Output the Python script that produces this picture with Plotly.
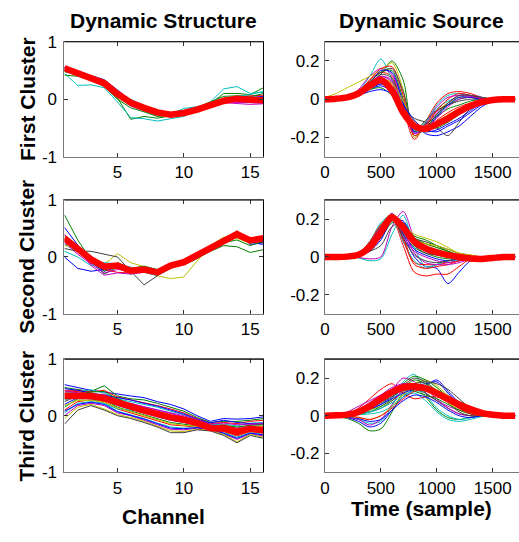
import plotly.graph_objects as go

# ---------------- data ----------------
channels = list(range(1, 17))
time_samples = list(range(0, 1800, 100))

col_titles = ["Dynamic Structure", "Dynamic Source"]
row_titles = ["First Cluster", "Second Cluster", "Third Cluster"]
x_titles = ["Channel", "Time (sample)"]

struct_xticks = [5, 10, 15]
struct_yticks = [-1, 0, 1]
struct_yticktext = ["-1", "0", "1"]
source_xticks = [0, 500, 1000, 1500]
source_yticks = [-0.2, 0, 0.2]
source_yticktext = ["-0.2", "0", "0.2"]

matlab_colors = ["#0000ff", "#008000", "#ff0000", "#00bfbf", "#bf00bf", "#bfbf00", "#404040"]

struct1_mean = [0.54, 0.46, 0.37, 0.28, 0.09, -0.06, -0.15, -0.23, -0.27, -0.24, -0.18, -0.11, -0.03, 0.01, -0.01, -0.02]
struct1_trials = [
    [0.55, 0.48, 0.40, 0.34, 0.16, -0.02, -0.12, -0.22, -0.28, -0.24, -0.17, -0.10, -0.01, 0.04, 0.03, 0.05],
    [0.48, 0.42, 0.33, 0.24, 0.02, -0.35, -0.30, -0.33, -0.29, -0.25, -0.17, -0.08, 0.10, 0.10, 0.08, 0.20],
    [0.52, 0.45, 0.35, 0.26, 0.06, -0.10, -0.18, -0.26, -0.25, -0.22, -0.15, -0.08, 0.02, 0.05, 0.06, 0.07],
    [0.45, 0.24, 0.25, 0.20, -0.05, -0.32, -0.34, -0.38, -0.34, -0.30, -0.18, -0.05, 0.18, 0.22, 0.10, 0.12],
    [0.50, 0.44, 0.34, 0.25, 0.05, -0.12, -0.20, -0.25, -0.30, -0.26, -0.20, -0.14, -0.06, -0.07, -0.09, -0.08],
    [0.53, 0.47, 0.39, 0.31, 0.10, -0.07, -0.16, -0.22, -0.25, -0.22, -0.16, -0.10, -0.02, -0.03, -0.05, -0.05],
    [0.50, 0.48, 0.40, 0.22, 0.06, -0.05, -0.20, -0.28, -0.30, -0.26, -0.19, -0.12, -0.04, 0.00, -0.03, 0.00],
    [0.56, 0.47, 0.39, 0.33, 0.12, -0.04, -0.13, -0.21, -0.27, -0.25, -0.19, -0.12, -0.03, 0.02, 0.01, 0.00],
    [0.42, 0.40, 0.33, 0.22, 0.00, -0.15, -0.22, -0.30, -0.28, -0.22, -0.14, -0.05, 0.05, 0.06, 0.04, 0.10],
    [0.55, 0.46, 0.37, 0.27, 0.07, -0.08, -0.14, -0.23, -0.26, -0.21, -0.16, -0.12, -0.05, -0.02, -0.04, -0.06],
    [0.51, 0.45, 0.37, 0.30, 0.12, 0.00, -0.12, -0.20, -0.26, -0.16, -0.13, -0.07, 0.00, 0.05, 0.08, 0.14],
    [0.54, 0.46, 0.36, 0.29, 0.08, -0.07, -0.17, -0.26, -0.28, -0.25, -0.19, -0.13, -0.05, -0.05, -0.06, -0.07],
]

struct2_mean = [0.33, 0.13, -0.04, -0.17, -0.15, -0.24, -0.22, -0.27, -0.15, -0.09, 0.04, 0.16, 0.30, 0.40, 0.29, 0.33]
struct2_trials = [
    [0.52, 0.20, -0.10, -0.25, -0.18, -0.27, -0.25, -0.28, -0.13, -0.08, 0.05, 0.18, 0.32, 0.42, 0.22, 0.25],
    [0.74, 0.30, -0.05, -0.30, -0.18, -0.30, -0.20, -0.30, -0.17, -0.12, -0.02, 0.10, 0.20, 0.18, 0.08, 0.13],
    [0.30, 0.10, -0.10, -0.22, -0.27, -0.28, -0.25, -0.28, -0.18, -0.10, 0.03, 0.16, 0.33, 0.43, 0.30, 0.30],
    [0.22, 0.10, -0.08, -0.20, -0.12, -0.22, -0.27, -0.33, -0.20, -0.12, 0.02, 0.15, 0.30, 0.38, 0.28, 0.28],
    [0.25, 0.05, -0.12, -0.28, -0.22, -0.24, -0.22, -0.25, -0.12, -0.05, 0.07, 0.20, 0.32, 0.40, 0.30, 0.32],
    [0.20, 0.18, -0.05, -0.13, 0.06, -0.10, -0.17, -0.33, -0.38, -0.35, -0.07, 0.20, 0.35, 0.35, 0.27, 0.36],
    [0.15, 0.10, 0.10, 0.05, 0.00, -0.25, -0.49, -0.33, -0.18, -0.10, 0.02, 0.15, 0.30, 0.46, 0.28, 0.25],
    [0.00, -0.20, -0.25, -0.22, -0.15, -0.20, -0.22, -0.25, -0.15, -0.08, 0.05, 0.16, 0.28, 0.38, 0.26, 0.22],
    [0.35, 0.12, -0.02, -0.25, -0.10, -0.20, -0.16, -0.22, -0.18, -0.14, -0.03, 0.12, 0.25, 0.30, 0.20, 0.28],
    [0.38, 0.15, -0.05, -0.15, -0.20, -0.26, -0.24, -0.30, -0.16, -0.10, 0.04, 0.17, 0.30, 0.40, 0.30, 0.34],
    [0.10, 0.00, -0.15, -0.10, -0.12, -0.18, -0.20, -0.27, -0.14, -0.06, 0.06, 0.18, 0.33, 0.36, 0.24, 0.30],
    [0.40, 0.15, -0.15, -0.32, -0.28, -0.30, -0.27, -0.24, -0.14, -0.07, 0.06, 0.17, 0.31, 0.42, 0.28, 0.31],
    [0.28, 0.20, 0.00, -0.12, -0.15, -0.20, -0.18, -0.26, -0.12, -0.06, 0.05, 0.16, 0.30, 0.33, 0.24, 0.35],
]

struct3_mean = [0.35, 0.36, 0.35, 0.31, 0.22, 0.16, 0.09, 0.02, -0.03, -0.07, -0.13, -0.22, -0.23, -0.29, -0.23, -0.26]
struct3_trials = [
    [0.55, 0.50, 0.45, 0.42, 0.38, 0.35, 0.32, 0.25, 0.20, 0.12, 0.00, -0.10, -0.05, -0.06, -0.05, -0.02],
    [0.50, 0.47, 0.43, 0.53, 0.35, 0.30, 0.28, 0.22, 0.15, 0.08, -0.03, -0.12, -0.10, -0.10, -0.08, -0.05],
    [0.45, 0.45, 0.42, 0.45, 0.33, 0.28, 0.24, 0.18, 0.12, 0.05, -0.05, -0.14, -0.12, -0.14, -0.10, -0.08],
    [0.40, 0.42, 0.46, 0.40, 0.30, 0.25, 0.20, 0.15, 0.08, 0.02, -0.08, -0.16, -0.15, -0.18, -0.13, -0.12],
    [0.38, 0.40, 0.38, 0.38, 0.28, 0.22, 0.16, 0.10, 0.04, -0.02, -0.10, -0.18, -0.18, -0.22, -0.16, -0.15],
    [0.30, 0.38, 0.36, 0.35, 0.25, 0.18, 0.12, 0.06, 0.00, -0.05, -0.12, -0.19, -0.20, -0.25, -0.19, -0.18],
    [0.25, 0.35, 0.35, 0.33, 0.22, 0.15, 0.08, 0.02, -0.04, -0.08, -0.14, -0.20, -0.22, -0.28, -0.22, -0.22],
    [0.20, 0.32, 0.33, 0.30, 0.18, 0.12, 0.05, -0.02, -0.08, -0.12, -0.16, -0.21, -0.24, -0.30, -0.24, -0.25],
    [0.15, 0.30, 0.30, 0.28, 0.15, 0.08, 0.02, -0.06, -0.12, -0.15, -0.18, -0.22, -0.26, -0.33, -0.26, -0.28],
    [0.10, 0.25, 0.28, 0.25, 0.12, 0.05, -0.02, -0.10, -0.16, -0.18, -0.20, -0.23, -0.28, -0.36, -0.28, -0.30],
    [0.05, 0.22, 0.25, 0.22, 0.08, 0.02, -0.05, -0.13, -0.20, -0.22, -0.21, -0.24, -0.30, -0.38, -0.30, -0.33],
    [0.00, 0.18, 0.22, 0.18, 0.05, 0.00, -0.08, -0.16, -0.24, -0.25, -0.22, -0.25, -0.32, -0.42, -0.32, -0.36],
    [-0.05, 0.15, 0.20, 0.12, 0.02, -0.03, -0.10, -0.18, -0.27, -0.28, -0.24, -0.26, -0.33, -0.46, -0.33, -0.38],
    [-0.15, 0.10, 0.18, 0.10, 0.00, -0.05, -0.12, -0.20, -0.30, -0.30, -0.25, -0.27, -0.35, -0.48, -0.35, -0.40],
    [0.48, 0.45, 0.40, 0.36, 0.32, 0.28, 0.22, 0.17, 0.10, 0.03, -0.06, -0.13, -0.08, -0.12, -0.14, -0.14],
    [0.35, 0.38, 0.42, 0.43, 0.30, 0.20, 0.14, 0.08, 0.02, -0.04, -0.11, -0.17, -0.17, -0.20, -0.17, -0.16],
    [0.42, 0.43, 0.38, 0.30, 0.20, 0.14, 0.10, 0.04, -0.02, -0.06, -0.12, -0.20, -0.16, -0.23, -0.20, -0.20],
    [0.28, 0.33, 0.30, 0.22, 0.12, 0.10, 0.06, 0.00, -0.06, -0.10, -0.15, -0.21, -0.19, -0.26, -0.23, -0.24],
    [0.44, 0.41, 0.37, 0.34, 0.26, 0.21, 0.16, 0.11, 0.05, 0.00, -0.07, -0.15, -0.13, -0.16, -0.15, -0.13],
    [0.18, 0.27, 0.27, 0.24, 0.14, 0.07, 0.00, -0.08, -0.14, -0.17, -0.19, -0.23, -0.27, -0.34, -0.27, -0.29],
    [0.32, 0.36, 0.34, 0.31, 0.21, 0.13, 0.07, 0.01, -0.05, -0.09, -0.13, -0.20, -0.21, -0.27, -0.21, -0.21],
    [0.08, 0.20, 0.24, 0.20, 0.07, 0.01, -0.06, -0.14, -0.22, -0.23, -0.21, -0.24, -0.31, -0.40, -0.31, -0.34],
]

source1_mean = [0, 0.003, 0.01, 0.03, 0.07, 0.10, 0.045, -0.07, -0.14, -0.155, -0.13, -0.10, -0.065, -0.035, -0.015, -0.004, 0, 0]
source1_trials = [
    [0, 0.002, 0.005, 0.02, 0.05, 0.07, 0.04, -0.04, -0.12, -0.18, -0.19, -0.17, -0.14, -0.09, -0.04, -0.01, 0, 0],
    [0, 0.003, 0.01, 0.03, 0.08, 0.13, 0.20, 0.10, -0.19, -0.15, -0.08, -0.03, 0.00, 0.01, 0.00, 0, 0, 0],
    [0, 0.003, 0.01, 0.04, 0.10, 0.14, 0.12, -0.05, -0.21, -0.12, -0.02, 0.03, 0.04, 0.03, 0.01, 0, 0, 0],
    [0, 0.003, 0.01, 0.04, 0.12, 0.21, 0.10, -0.08, -0.16, -0.13, -0.05, -0.01, 0.01, 0.01, 0.00, 0, 0, 0],
    [0, 0.004, 0.012, 0.05, 0.12, 0.16, 0.13, -0.02, -0.18, -0.14, -0.07, -0.02, 0.02, 0.02, 0.01, 0, 0, 0],
    [0.01, 0.03, 0.06, 0.09, 0.12, 0.15, 0.19, 0.05, -0.20, -0.13, -0.06, -0.02, 0.01, 0.01, 0.00, 0, 0, 0],
    [0, 0.002, 0.008, 0.03, 0.06, 0.08, 0.04, -0.05, -0.10, -0.12, -0.15, -0.19, -0.12, -0.05, -0.02, 0, 0, 0],
    [0, 0.002, 0.006, 0.02, 0.05, 0.08, 0.06, -0.02, -0.13, -0.17, -0.16, -0.13, -0.10, -0.06, -0.02, -0.005, 0, 0],
    [0, 0.003, 0.01, 0.03, 0.09, 0.14, 0.15, 0.00, -0.17, -0.13, -0.09, -0.05, -0.03, -0.01, 0, 0, 0, 0],
    [0, 0.003, 0.01, 0.03, 0.07, 0.11, 0.08, -0.04, -0.15, -0.16, -0.11, -0.07, -0.04, -0.02, -0.01, 0, 0, 0],
    [0, 0.002, 0.008, 0.025, 0.06, 0.09, 0.06, -0.05, -0.15, -0.12, -0.03, 0.02, 0.03, 0.02, 0.01, 0, 0, 0],
    [0, 0.003, 0.01, 0.03, 0.08, 0.12, 0.10, -0.03, -0.16, -0.15, -0.10, -0.04, 0.00, 0.01, 0.00, 0, 0, 0],
    [0, 0.002, 0.008, 0.03, 0.07, 0.10, 0.09, -0.03, -0.14, -0.14, -0.12, -0.08, -0.05, -0.03, -0.01, 0, 0, 0],
    [0, 0.002, 0.01, 0.03, 0.07, 0.13, 0.11, -0.06, -0.17, -0.11, -0.06, -0.03, -0.01, 0, 0, 0, 0, 0],
    [0, 0.002, 0.008, 0.03, 0.08, 0.15, 0.14, -0.02, -0.17, -0.16, -0.09, -0.03, 0.01, 0.01, 0, 0, 0, 0],
    [0, 0.002, 0.006, 0.02, 0.05, 0.06, 0.02, -0.06, -0.13, -0.15, -0.15, -0.12, -0.08, -0.04, -0.015, 0, 0, 0],
    [0, 0.003, 0.01, 0.04, 0.10, 0.16, 0.17, 0.02, -0.19, -0.14, -0.06, 0.00, 0.03, 0.02, 0.005, 0, 0, 0],
    [0, 0.002, 0.007, 0.025, 0.06, 0.10, 0.07, -0.06, -0.16, -0.17, -0.14, -0.10, -0.06, -0.03, -0.01, 0, 0, 0],
    [0, 0.003, 0.01, 0.035, 0.09, 0.12, 0.09, -0.05, -0.18, -0.13, -0.04, 0.01, 0.02, 0.015, 0.005, 0, 0, 0],
    [0, 0.002, 0.008, 0.02, 0.05, 0.09, 0.08, -0.01, -0.12, -0.15, -0.13, -0.10, -0.07, -0.04, -0.02, -0.005, 0, 0],
    [0, 0.003, 0.01, 0.04, 0.09, 0.14, 0.16, 0.04, -0.15, -0.15, -0.08, -0.02, 0.02, 0.02, 0.01, 0, 0, 0],
    [0, 0.002, 0.006, 0.02, 0.04, 0.05, 0.03, -0.03, -0.11, -0.16, -0.17, -0.14, -0.11, -0.07, -0.03, -0.01, 0, 0],
]

source2_mean = [0, 0, 0.002, 0.012, 0.05, 0.13, 0.21, 0.155, 0.08, 0.045, 0.025, 0.01, 0.0, -0.008, -0.01, -0.005, 0, 0]
source2_trials = [
    [0, 0, 0.003, 0.015, 0.06, 0.15, 0.22, 0.12, 0.00, -0.05, -0.06, -0.14, -0.08, -0.02, 0, 0, 0, 0],
    [0, 0, 0.004, 0.02, 0.08, 0.17, 0.22, 0.12, 0.05, 0.02, 0.00, -0.01, -0.01, 0, 0, 0, 0, 0],
    [0, 0, 0.003, 0.015, 0.06, 0.14, 0.20, 0.06, -0.08, -0.10, -0.09, -0.09, -0.05, -0.01, 0, 0, 0, 0],
    [0, 0, 0.0, -0.005, -0.02, -0.01, 0.12, 0.22, 0.05, -0.05, -0.04, -0.02, -0.01, -0.02, -0.01, 0, 0, 0],
    [0, 0, 0.0, -0.003, -0.01, 0.00, 0.16, 0.24, 0.10, 0.03, 0.01, 0, 0, 0, 0, 0, 0, 0],
    [0, 0, 0.004, 0.02, 0.07, 0.16, 0.23, 0.15, 0.09, 0.07, 0.05, 0.03, 0.01, 0, 0, 0, 0, 0],
    [0, 0, 0.002, 0.01, 0.03, 0.06, 0.16, 0.18, 0.10, 0.08, 0.06, 0.04, 0.02, 0.01, 0, 0, 0, 0],
    [0, 0, 0.003, 0.015, 0.06, 0.14, 0.21, 0.16, 0.08, 0.05, 0.03, 0.02, 0.01, -0.01, -0.015, -0.01, 0, 0],
    [0, 0, 0.003, 0.015, 0.06, 0.13, 0.20, 0.17, 0.11, 0.09, 0.06, 0.03, 0.01, 0, 0, 0, 0, 0],
    [0, 0, 0.002, 0.012, 0.05, 0.12, 0.20, 0.10, -0.03, -0.04, -0.04, -0.03, -0.02, -0.01, 0, 0, 0, 0],
    [0, 0, 0.004, 0.02, 0.08, 0.18, 0.22, 0.08, -0.02, -0.06, -0.04, -0.02, -0.02, -0.01, 0, 0, 0, 0],
    [0, 0, 0.003, 0.015, 0.06, 0.15, 0.23, 0.11, 0.03, 0.00, -0.02, -0.03, -0.02, -0.01, 0, 0, 0, 0],
    [0, 0, 0.002, 0.01, 0.04, 0.11, 0.19, 0.17, 0.12, 0.10, 0.08, 0.05, 0.02, 0.01, 0, 0, 0, 0],
    [0, 0, 0.003, 0.012, 0.05, 0.12, 0.21, 0.14, 0.06, 0.02, 0.01, 0.00, -0.01, -0.01, 0, 0, 0, 0],
    [0, 0, 0.003, 0.015, 0.07, 0.16, 0.22, 0.13, 0.04, 0.01, -0.01, -0.02, -0.01, 0, 0, 0, 0, 0],
    [0, 0, 0.002, 0.01, 0.04, 0.10, 0.18, 0.18, 0.10, 0.07, 0.05, 0.03, 0.01, 0, 0, 0, 0, 0],
    [0, 0, 0.003, 0.02, 0.08, 0.17, 0.21, 0.09, -0.04, -0.06, -0.05, -0.04, -0.02, -0.01, 0, 0, 0, 0],
    [0, 0, 0.002, 0.012, 0.05, 0.12, 0.20, 0.15, 0.07, 0.05, 0.04, 0.02, 0.01, 0, -0.01, 0, 0, 0],
    [0, 0, 0.004, 0.02, 0.07, 0.15, 0.22, 0.14, 0.02, -0.03, -0.04, -0.04, -0.03, -0.01, 0, 0, 0, 0],
    [0, 0, 0.002, 0.012, 0.05, 0.11, 0.19, 0.16, 0.09, 0.07, 0.06, 0.04, 0.02, 0.01, 0, 0, 0, 0],
    [0, 0, 0.003, 0.015, 0.06, 0.14, 0.22, 0.10, 0.01, -0.02, -0.03, -0.02, -0.01, 0, 0, 0, 0, 0],
    [0, 0, 0.001, 0.008, 0.03, 0.09, 0.19, 0.19, 0.08, 0.04, 0.02, 0.01, 0, 0, 0, 0, 0, 0],
]

source3_mean = [0, 0.002, 0.006, 0.02, 0.05, 0.09, 0.125, 0.15, 0.155, 0.145, 0.12, 0.09, 0.06, 0.035, 0.015, 0.005, 0, 0]
source3_trials = [
    [0, 0.001, 0.003, 0.01, 0.03, 0.06, 0.10, 0.14, 0.16, 0.17, 0.18, 0.12, 0.06, 0.02, 0.005, 0, 0, 0],
    [0, -0.005, -0.015, -0.04, -0.08, -0.07, 0.02, 0.12, 0.15, 0.10, 0.03, -0.01, -0.02, -0.01, 0, 0, 0, 0],
    [0, 0.003, 0.01, 0.04, 0.09, 0.14, 0.17, 0.12, 0.09, 0.10, 0.10, 0.07, 0.04, 0.02, 0.005, 0, 0, 0],
    [0, -0.002, -0.008, -0.02, -0.04, -0.03, 0.05, 0.18, 0.22, 0.12, 0.04, 0.00, -0.02, -0.01, 0, 0, 0, 0],
    [0, 0.005, 0.02, 0.05, 0.08, 0.11, 0.14, 0.20, 0.18, 0.12, 0.08, 0.05, 0.03, 0.015, 0.005, 0, 0, 0],
    [0, 0.002, 0.006, 0.015, 0.03, 0.05, 0.08, 0.12, 0.17, 0.19, 0.16, 0.11, 0.06, 0.02, 0.005, 0, 0, 0],
    [0, 0.001, 0.004, 0.01, 0.02, 0.04, 0.08, 0.13, 0.14, 0.12, 0.08, 0.04, 0.01, 0, 0, 0, 0, 0],
    [0, -0.002, -0.01, -0.03, -0.06, -0.04, 0.03, 0.10, 0.14, 0.16, 0.19, 0.13, 0.07, 0.03, 0.01, 0, 0, 0],
    [0, 0.002, 0.008, 0.02, 0.04, 0.07, 0.11, 0.15, 0.19, 0.17, 0.13, 0.09, 0.05, 0.02, 0.005, 0, 0, 0],
    [0, 0.003, 0.01, 0.03, 0.06, 0.10, 0.13, 0.15, 0.14, 0.13, 0.11, 0.08, 0.05, 0.025, 0.01, 0, 0, 0],
    [0, 0.001, 0.002, 0.005, 0.01, 0.02, 0.05, 0.10, 0.12, 0.08, 0.02, -0.02, -0.03, -0.02, -0.005, 0, 0, 0],
    [0, -0.002, -0.008, -0.02, -0.05, -0.02, 0.06, 0.14, 0.17, 0.14, 0.09, 0.04, 0.01, 0, 0, 0, 0, 0],
    [0, 0.003, 0.01, 0.03, 0.06, 0.09, 0.12, 0.14, 0.16, 0.16, 0.14, 0.10, 0.06, 0.03, 0.01, 0, 0, 0],
    [0, 0.002, 0.006, 0.02, 0.05, 0.08, 0.11, 0.16, 0.20, 0.18, 0.13, 0.07, 0.02, 0.00, 0, 0, 0, 0],
    [0, -0.001, -0.005, -0.015, -0.03, -0.02, 0.03, 0.08, 0.11, 0.10, 0.07, 0.03, 0.00, -0.01, 0, 0, 0, 0],
    [0, 0.001, 0.004, 0.01, 0.02, 0.05, 0.09, 0.17, 0.21, 0.19, 0.15, 0.10, 0.05, 0.02, 0.005, 0, 0, 0],
    [0, 0.002, 0.008, 0.025, 0.06, 0.10, 0.14, 0.17, 0.17, 0.15, 0.12, 0.08, 0.04, 0.015, 0.005, 0, 0, 0],
    [0, 0.001, 0.003, 0.01, 0.02, 0.04, 0.07, 0.11, 0.13, 0.13, 0.12, 0.09, 0.05, 0.02, 0.005, 0, 0, 0],
    [0, 0.003, 0.012, 0.035, 0.07, 0.11, 0.15, 0.17, 0.16, 0.14, 0.11, 0.08, 0.05, 0.03, 0.01, 0, 0, 0],
    [0, -0.001, -0.004, -0.01, -0.02, 0.00, 0.05, 0.11, 0.15, 0.15, 0.12, 0.07, 0.03, 0.01, 0, 0, 0, 0],
    [0, 0.002, 0.006, 0.02, 0.04, 0.07, 0.10, 0.14, 0.17, 0.18, 0.17, 0.14, 0.09, 0.04, 0.01, 0, 0, 0],
    [0, 0.001, 0.005, 0.015, 0.035, 0.06, 0.09, 0.12, 0.14, 0.14, 0.12, 0.10, 0.07, 0.04, 0.015, 0, 0, 0],
    [0, 0.002, 0.007, 0.02, 0.045, 0.08, 0.12, 0.15, 0.13, 0.11, 0.09, 0.06, 0.03, 0.01, 0, 0, 0, 0],
    [0, 0, -0.002, -0.008, -0.02, 0.00, 0.04, 0.09, 0.13, 0.14, 0.13, 0.09, 0.04, 0.01, 0, 0, 0, 0],
]

# ---------------- layout geometry ----------------
W, H = 519, 542
col_px = [(60, 261), (323, 519)]
row_px = [(34, 153), (198, 316), (363, 480)]

FONT = "Liberation Sans, Arial, Helvetica, sans-serif"
AXIS_GRAY = "#7a7a7a"

fig = go.Figure()

panels = [
    (struct1_trials, struct1_mean, source1_trials, source1_mean),
    (struct2_trials, struct2_mean, source2_trials, source2_mean),
    (struct3_trials, struct3_mean, source3_trials, source3_mean),
]

shapes = []
for r, (st, sm, so, som) in enumerate(panels):
    for c in range(2):
        idx = r * 2 + c + 1
        xa = "x" if idx == 1 else f"x{idx}"
        ya = "y" if idx == 1 else f"y{idx}"
        if c == 0:
            xs, trials, mean, shape = channels, st, sm, "linear"
        else:
            xs, trials, mean, shape = time_samples, so, som, "spline"
        for k, tr in enumerate(trials):
            fig.add_trace(go.Scatter(
                x=xs, y=tr, mode="lines", xaxis=xa, yaxis=ya,
                line=dict(color=matlab_colors[k % len(matlab_colors)], width=1, shape=shape,
                          smoothing=0.8 if shape == "spline" else None),
                showlegend=False, hoverinfo="skip"))
        fig.add_trace(go.Scatter(
            x=xs, y=mean, mode="lines", xaxis=xa, yaxis=ya,
            line=dict(color="#ff0000", width=6.5, shape=shape,
                      smoothing=0.8 if shape == "spline" else None),
            showlegend=False, hoverinfo="skip"))

        x0, x1 = col_px[c]
        y0, y1 = row_px[r]
        xdom = [x0 / W, x1 / W]
        ydom = [1 - y1 / H, 1 - y0 / H]
        xkey = "xaxis" if idx == 1 else f"xaxis{idx}"
        ykey = "yaxis" if idx == 1 else f"yaxis{idx}"
        common = dict(showgrid=False, zeroline=False, showline=True, linecolor=AXIS_GRAY,
                      linewidth=1, ticks="inside", ticklen=4, tickcolor="#333333",
                      tickfont=dict(family=FONT, size=17, color="black"), fixedrange=True)
        if c == 0:
            fig.layout[xkey] = dict(common, domain=xdom, anchor=ya, range=[1, 16],
                                    tickvals=struct_xticks, ticktext=[str(v) for v in struct_xticks],
                                    mirror="ticks")
            fig.layout[ykey] = dict(common, domain=ydom, anchor=xa, range=[-1, 1],
                                    tickvals=struct_yticks, ticktext=struct_yticktext,
                                    mirror="ticks", ticklabelstandoff=3)
            shapes.append(dict(type="line", xref="paper", yref="paper",
                               x0=xdom[0], x1=xdom[1], y0=ydom[1], y1=ydom[1],
                               line=dict(color="black", width=1)))
            shapes.append(dict(type="line", xref="paper", yref="paper",
                               x0=xdom[1], x1=xdom[1], y0=ydom[0], y1=ydom[1],
                               line=dict(color="black", width=1)))
        else:
            fig.layout[xkey] = dict(common, domain=xdom, anchor=ya, range=[0, 1735],
                                    tickvals=source_xticks, ticktext=[str(v) for v in source_xticks],
                                    mirror="ticks")
            fig.layout[ykey] = dict(common, domain=ydom, anchor=xa, range=[-0.3, 0.3],
                                    tickvals=source_yticks, ticktext=source_yticktext,
                                    mirror=False, ticklabelstandoff=1)
            shapes.append(dict(type="line", xref="paper", yref="paper",
                               x0=xdom[0], x1=xdom[1], y0=ydom[1], y1=ydom[1],
                               line=dict(color="black", width=1)))

annotations = []
bold = dict(family=FONT, size=21, color="black")
for c, t in enumerate(col_titles):
    cx = (col_px[c][0] + col_px[c][1]) / 2 / W
    annotations.append(dict(text=f"<b>{t}</b>", x=cx, y=1 - 12 / H, xref="paper", yref="paper",
                            xanchor="center", yanchor="middle", showarrow=False, font=bold))
for r, t in enumerate(row_titles):
    cy = 1 - (row_px[r][0] + row_px[r][1]) / 2 / H
    annotations.append(dict(text=f"<b>{t}</b>", x=22 / W, y=cy, xref="paper", yref="paper",
                            xanchor="center", yanchor="middle", textangle=-90, showarrow=False,
                            font=bold))
x_label_y = [526, 518]
for c, t in enumerate(x_titles):
    cx = (col_px[c][0] + col_px[c][1]) / 2 / W
    annotations.append(dict(text=f"<b>{t}</b>", x=cx, y=1 - x_label_y[c] / H, xref="paper",
                            yref="paper", xanchor="center", yanchor="middle", showarrow=False,
                            font=bold))

fig.update_layout(width=W, height=H, margin=dict(l=0, r=0, t=0, b=0),
                  paper_bgcolor="white", plot_bgcolor="white",
                  shapes=shapes, annotations=annotations, showlegend=False,
                  font=dict(family=FONT))

fig.write_html("out.html", config={"displayModeBar": False},
               post_script="document.body.style.margin='0';document.body.style.overflow='hidden';")
